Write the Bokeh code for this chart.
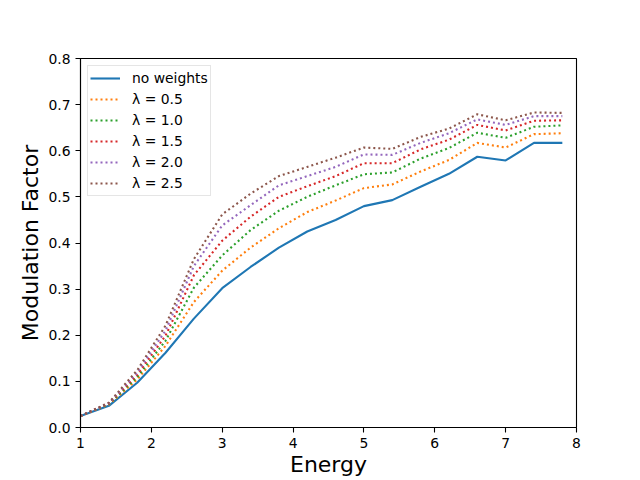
from bokeh.plotting import figure
from bokeh.models import Range1d, FixedTicker, NumeralTickFormatter, Legend, LegendItem
from bokeh.embed import file_html
from bokeh.resources import INLINE

energy = [1.0, 1.4, 1.8, 2.2, 2.6, 3.0, 3.4, 3.8, 4.2, 4.6, 5.0, 5.4, 5.8, 6.2, 6.6, 7.0, 7.4, 7.8]
no_weights = [0.025, 0.047, 0.097, 0.162, 0.236, 0.302, 0.348, 0.390, 0.425, 0.450, 0.480, 0.493, 0.522, 0.550, 0.587, 0.579, 0.617, 0.617]
lam_05 = [0.025, 0.050, 0.104, 0.177, 0.272, 0.340, 0.390, 0.432, 0.467, 0.492, 0.519, 0.527, 0.555, 0.580, 0.617, 0.607, 0.636, 0.638]
lam_10 = [0.025, 0.051, 0.109, 0.188, 0.303, 0.373, 0.428, 0.470, 0.500, 0.525, 0.549, 0.553, 0.583, 0.606, 0.639, 0.628, 0.652, 0.655]
lam_15 = [0.025, 0.052, 0.114, 0.199, 0.330, 0.405, 0.457, 0.500, 0.523, 0.545, 0.573, 0.573, 0.603, 0.624, 0.656, 0.644, 0.665, 0.666]
lam_20 = [0.025, 0.053, 0.119, 0.210, 0.350, 0.438, 0.482, 0.525, 0.545, 0.565, 0.592, 0.591, 0.617, 0.638, 0.668, 0.656, 0.675, 0.675]
lam_25 = [0.025, 0.054, 0.124, 0.221, 0.365, 0.462, 0.507, 0.545, 0.565, 0.585, 0.607, 0.604, 0.630, 0.648, 0.679, 0.666, 0.683, 0.682]

labels = ["no weights", "λ = 0.5", "λ = 1.0", "λ = 1.5", "λ = 2.0", "λ = 2.5"]
colors = ["#1f77b4", "#ff7f0e", "#2ca02c", "#d62728", "#9467bd", "#8c564b"]
series = [no_weights, lam_05, lam_10, lam_15, lam_20, lam_25]
x_ticks = [1, 2, 3, 4, 5, 6, 7, 8]
y_ticks = [0.0, 0.1, 0.2, 0.3, 0.4, 0.5, 0.6, 0.7, 0.8]

p = figure(frame_width=496, frame_height=369, output_backend="svg", toolbar_location=None,
           x_range=Range1d(1, 8), y_range=Range1d(0, 0.8))
p.min_border_left = 80
p.min_border_right = 48
p.min_border_top = 58
p.min_border_bottom = 30
p.background_fill_color = "white"
p.border_fill_color = "white"
p.outline_line_color = "black"
p.outline_line_width = 1.1
p.xgrid.visible = False
p.ygrid.visible = False

font = "DejaVu Sans"
items = []
for i, (vals, lab, col) in enumerate(zip(series, labels, colors)):
    if i == 0:
        r = p.line(energy, vals, line_color=col, line_width=2.1)
    else:
        r = p.line(energy, vals, line_color=col, line_width=2.1, line_dash="2 3")
    items.append(LegendItem(label=lab, renderers=[r]))

for ax in (p.xaxis[0], p.yaxis[0]):
    ax.axis_line_color = "black"
    ax.axis_line_width = 1.1
    ax.major_tick_out = 5
    ax.major_tick_in = 0
    ax.major_tick_line_width = 1.1
    ax.minor_tick_line_color = None
    ax.major_label_text_font = font
    ax.major_label_text_font_size = "13.9px"
    ax.major_label_text_color = "black"
    ax.axis_label_text_font = font
    ax.axis_label_text_font_size = "22px"
    ax.axis_label_text_font_style = "normal"
    ax.axis_label_text_color = "black"

p.xaxis.ticker = FixedTicker(ticks=x_ticks)
p.yaxis.ticker = FixedTicker(ticks=y_ticks)
p.yaxis.formatter = NumeralTickFormatter(format="0.0")
p.xaxis.axis_label = "Energy"
p.yaxis.axis_label = "Modulation Factor"
p.xaxis.axis_label_standoff = 1
p.yaxis.axis_label_standoff = 2

legend = Legend(items=items, location="top_left")
legend.label_text_font = font
legend.label_text_font_size = "13.9px"
legend.label_text_color = "black"
legend.glyph_width = 30
legend.glyph_height = 20
legend.label_height = 20
legend.spacing = 1
legend.padding = 2
legend.margin = 7
legend.label_standoff = 12
legend.border_line_color = "#cccccc"
legend.border_line_width = 1
legend.background_fill_alpha = 0.8
p.add_layout(legend)

open("out.html", "w").write(file_html(p, INLINE))
